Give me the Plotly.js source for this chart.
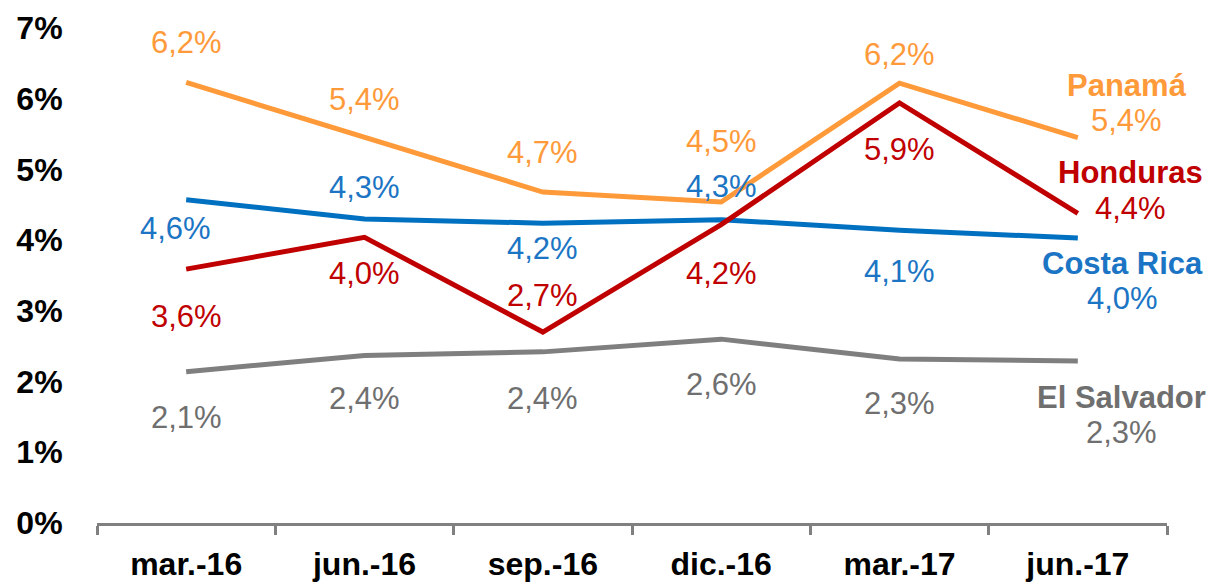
<!DOCTYPE html>
<html>
<head>
<meta charset="utf-8">
<script src="https://cdn.plot.ly/plotly-3.0.1.min.js"></script>
<style>html,body{margin:0;padding:0;background:#fff;}#chart{width:1217px;height:585px;}</style>
</head>
<body>
<div id="chart"></div>
<script>
const categories = ['mar.-16','jun.-16','sep.-16','dic.-16','mar.-17','jun.-17'];
const seriesNames = ['El Salvador','Costa Rica','Panamá','Honduras'];
const elSalvador = [2.14, 2.37, 2.42, 2.60, 2.32, 2.29];
const costaRica  = [4.57, 4.30, 4.24, 4.29, 4.14, 4.03];
const panama     = [6.23, 5.45, 4.68, 4.54, 6.22, 5.45];
const honduras   = [3.59, 4.04, 2.70, 4.22, 5.94, 4.38];
const elSalvadorLabels = ['2,1%','2,4%','2,4%','2,6%','2,3%','2,3%'];
const costaRicaLabels  = ['4,6%','4,3%','4,2%','4,3%','4,1%','4,0%'];
const panamaLabels     = ['6,2%','5,4%','4,7%','4,5%','6,2%','5,4%'];
const hondurasLabels   = ['3,6%','4,0%','2,7%','4,2%','5,9%','4,4%'];
const yTickVals = [0,1,2,3,4,5,6,7];
const yTickText = ['0%','1%','2%','3%','4%','5%','6%','7%'];

const lineColors = ['#7F7F7F','#0070C0','#FF9A3A','#C00000'];
const labelColors = ['#6F6F6F','#1B75C4','#FF9A3A','#C00000'];
const values = [elSalvador, costaRica, panama, honduras];
const labels = [elSalvadorLabels, costaRicaLabels, panamaLabels, hondurasLabels];
// vertical offsets (px, positive = up) for each point label
const yShifts = [
  [-46,-43,-47,-45,-45,0],
  [-29, 31,-25, 33,-41,0],
  [ 40, 38, 40, 60, 29,0],
  [-47,-36, 37,-49,-47,0]
];
const xShifts = [
  [0,0,0,0,0,0],
  [-11,0,0,0,0,0],
  [0,0,0,0,0,0],
  [0,0,0,0,0,0]
];
// end labels: [xshift, name yshift, value yshift]
const endShifts = [[44,-36,-71],[45,-25,-60],[49,52,17],[53,41,5]];

const traces = values.map((v,i)=>({
  x: categories, y: v, type:'scatter', mode:'lines', name: seriesNames[i],
  line:{color: lineColors[i], width:5}, hoverinfo:'skip'
}));

const annotations = [];
const fontFam = 'Liberation Sans, Arial, sans-serif';
const labelSize = 31;
values.forEach((v,i)=>{
  v.forEach((val,j)=>{
    if (j === categories.length-1) {
      annotations.push({
        x: categories[j], y: val, xref:'x', yref:'y', showarrow:false,
        text: '<b>' + seriesNames[i] + '</b>',
        xshift: endShifts[i][0], yshift: endShifts[i][1], xanchor:'center', yanchor:'middle',
        font:{family: fontFam, size:labelSize, color: labelColors[i]}
      });
      annotations.push({
        x: categories[j], y: val, xref:'x', yref:'y', showarrow:false,
        text: labels[i][j],
        xshift: endShifts[i][0], yshift: endShifts[i][2], xanchor:'center', yanchor:'middle',
        font:{family: fontFam, size:labelSize, color: labelColors[i]}
      });
    } else {
      annotations.push({
        x: categories[j], y: val, xref:'x', yref:'y', showarrow:false,
        text: labels[i][j], xshift: xShifts[i][j], yshift: yShifts[i][j],
        xanchor:'center', yanchor:'middle',
        font:{family: fontFam, size:labelSize, color: labelColors[i]}
      });
    }
  });
});

const layout = {
  width:1217, height:585,
  margin:{l:97, r:50, t:28, b:62},
  paper_bgcolor:'#fff', plot_bgcolor:'#fff',
  showlegend:false,
  font:{family: fontFam},
  xaxis:{
    type:'category', range:[-0.5,5.5], showgrid:false, zeroline:false,
    showline:true, linecolor:'#808080', linewidth:3,
    ticks:'outside', tickson:'boundaries', ticklen:9, tickwidth:3, tickcolor:'#808080',
    ticklabelstandoff:11,
    tickfont:{family: fontFam, size:32, color:'#000', weight:'bold'},
    fixedrange:true
  },
  yaxis:{
    range:[0,7], tickvals:yTickVals, ticktext:yTickText, showgrid:false, zeroline:false,
    showline:false, ticks:'outside', ticklen:27, tickcolor:'rgba(0,0,0,0)',
    tickfont:{family: fontFam, size:32, color:'#000', weight:'bold'},
    fixedrange:true
  },
  annotations: annotations
};

Plotly.newPlot('chart', traces, layout, {displayModeBar:false, staticPlot:true});
</script>
</body>
</html>
